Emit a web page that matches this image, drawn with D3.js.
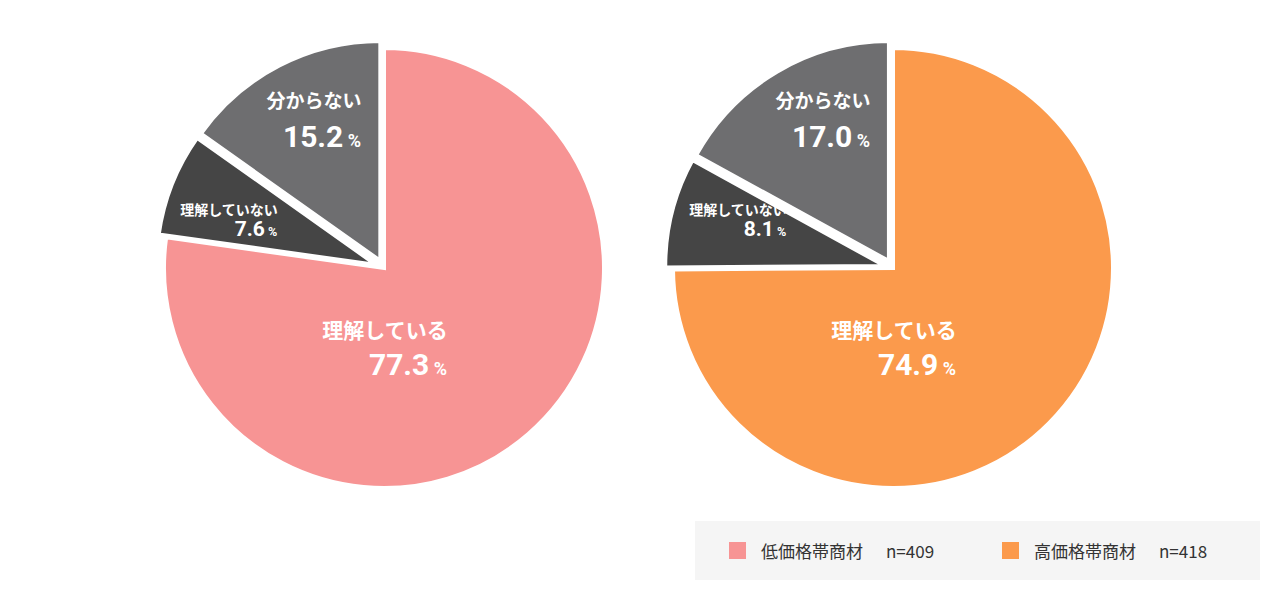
<!DOCTYPE html>
<html><head><meta charset="utf-8">
<script src="https://cdn.jsdelivr.net/npm/d3@7"></script>
<style>body{margin:0;background:#fff;font-family:"Noto Sans CJK JP","Noto Sans",sans-serif;}</style>
</head><body><svg id="c" width="1280" height="600"></svg>
<script>
const categories = ["理解している","理解していない","分からない"];
const lowValues = [77.3, 7.6, 15.2];
const highValues = [74.9, 8.1, 17.0];
const seriesLabels = ["低価格帯商材","高価格帯商材"];
const seriesN = ["n=409","n=418"];
const mainColors = ["#f79494","#fb9a4c"];
const otherColors = ["#454545","#6e6e70"];

const svg = d3.select("#c");
const R = 220;
const pie = d3.pie().sort(null).value(d=>d);
const arc = d3.arc().innerRadius(0).outerRadius(R);
// label anchors relative to pie centre: [nameX,nameY,valX,valY,nameSize,valSize]
const labelPos = [[1,70,24,107,21,30],[-155,-53,-128,-32,14,21],[-70,-160,-62,-121,19,30]];

function drawPie(cx, cy, values, mainColor){
  const g = svg.append("g").attr("transform",`translate(${cx},${cy})`);
  pie(values).forEach((a,i)=>{
    const mid=(a.startAngle+a.endAngle)/2;
    const off = i===0?0:8;
    g.append("path").attr("d",arc(a))
      .attr("transform",`translate(${Math.sin(mid)*off},${-Math.cos(mid)*off})`)
      .attr("fill", i===0?mainColor:otherColors[i-1])
      .attr("stroke","#fff").attr("stroke-width",4);
  });
  values.forEach((v,i)=>{
    const p=labelPos[i];
    g.append("text").attr("x",p[0]).attr("y",p[1]).attr("text-anchor","middle").attr("fill","#fff")
      .attr("font-weight","bold").attr("font-size",p[4]).text(categories[i]);
    const t=g.append("text").attr("x",p[2]).attr("y",p[3]).attr("text-anchor","middle").attr("fill","#fff")
      .attr("font-weight","bold").attr("font-family","Roboto,sans-serif").attr("font-size",p[5]);
    t.append("tspan").text(v.toFixed(1));
    t.append("tspan").attr("font-size",p[5]*0.6).text(" %");
  });
}
drawPie(384,268,lowValues,mainColors[0]);
drawPie(893,268,highValues,mainColors[1]);

const lg = svg.append("g");
lg.append("rect").attr("x",695).attr("y",521).attr("width",565).attr("height",59).attr("fill","#f5f5f5");
const lx=[729,1002];
seriesLabels.forEach((s,i)=>{
  lg.append("rect").attr("x",lx[i]).attr("y",542).attr("width",17).attr("height",17).attr("fill",mainColors[i]);
  lg.append("text").attr("x",lx[i]+32).attr("y",558).attr("font-size",17).attr("fill","#333").text(s);
  lg.append("text").attr("x",lx[i]+157).attr("y",558).attr("font-size",17).attr("fill","#333").text(seriesN[i]);
});
</script></body></html>
